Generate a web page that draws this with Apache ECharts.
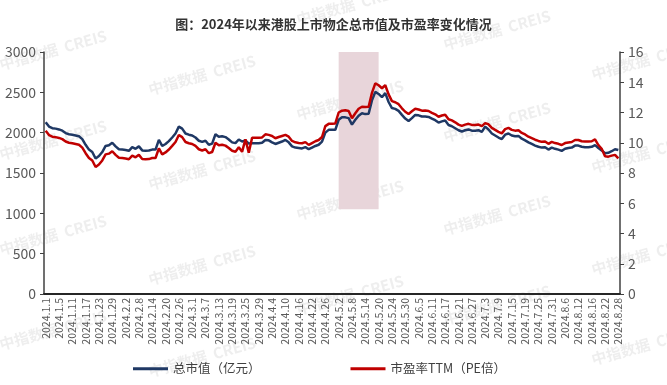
<!DOCTYPE html>
<html>
<head>
<meta charset="utf-8">
<script src="https://cdn.jsdelivr.net/npm/echarts@6/dist/echarts.min.js"></script>
<style>
html,body{margin:0;padding:0;background:#fff;}
#c{width:667px;height:385px;}
</style>
</head>
<body>
<div id="c"></div>
<script>
// ---- data ----
const titleText = '图：2024年以来港股上市物企总市值及市盈率变化情况';
const seriesNames = ['总市值（亿元）', '市盈率TTM（PE倍）'];
const monthDays = {
  1: [1,2,3,4,5,8,9,10,11,12,15,16,17,18,19,22,23,24,25,26,29,30,31],
  2: [1,2,5,6,7,8,9,12,13,14,15,16,19,20,21,22,23,26,27,28,29],
  3: [1,4,5,6,7,8,11,12,13,14,15,18,19,20,21,22,25,26,27,28,29],
  4: [1,2,3,4,5,8,9,10,11,12,15,16,17,18,19,22,23,24,25,26,29,30],
  5: [1,2,3,6,7,8,9,10,13,14,15,16,17,20,21,22,23,24,27,28,29,30,31],
  6: [3,4,5,6,7,10,11,12,13,14,17,18,19,20,21,24,25,26,27,28],
  7: [1,2,3,4,5,8,9,10,11,12,15,16,17,18,19,22,23,24,25,26,29,30,31],
  8: [1,2,5,6,7,8,9,12,13,14,15,16,19,20,21,22,23,26,27,28]
};
const categories = [];
Object.keys(monthDays).forEach(m => monthDays[m].forEach(d => categories.push('2024.' + m + '.' + d)));

const marketValue = [
  2130,2075,2055,2050,2040,2025,1995,1980,1975,1965,
  1955,1920,1850,1790,1760,1680,1710,1760,1835,1845,
  1875,1830,1795,1790,1785,1775,1820,1800,1830,1780,
  1775,1778,1790,1790,1910,1835,1860,1895,1940,1990,
  2075,2050,1990,1975,1965,1940,1900,1885,1900,1850,
  1865,1980,1950,1955,1945,1915,1880,1870,1915,1890,
  1905,1865,1870,1870,1870,1875,1910,1905,1880,1860,
  1875,1890,1910,1880,1830,1815,1810,1805,1820,1795,
  1815,1835,1850,1890,2000,2035,2035,2035,2160,2190,
  2190,2180,2100,2160,2210,2240,2230,2235,2400,2505,
  2480,2440,2490,2380,2305,2295,2270,2220,2175,2145,
  2180,2220,2215,2200,2200,2195,2175,2155,2125,2140,
  2150,2095,2080,2055,2030,2015,2030,2040,2025,2025,
  2030,2010,2075,2040,1990,1965,1940,1920,1975,1990,
  1965,1955,1960,1925,1905,1880,1860,1840,1825,1815,
  1820,1790,1815,1800,1790,1775,1800,1810,1815,1840,
  1840,1825,1820,1820,1825,1845,1810,1780,1745,1750,
  1770,1795,1785
];
const peTTM = [
  10.80,10.51,10.40,10.37,10.32,10.24,10.08,10.00,9.97,9.92,
  9.87,9.68,9.31,8.99,8.83,8.40,8.56,8.83,9.23,9.28,
  9.44,9.20,9.01,8.99,8.96,8.91,9.15,9.04,9.20,8.93,
  8.91,8.92,8.99,8.99,9.63,9.23,9.36,9.55,9.79,10.05,
  10.51,10.37,10.05,9.97,9.92,9.79,9.57,9.49,9.57,9.31,
  9.39,10.00,9.84,9.87,9.81,9.65,9.47,9.41,9.70,9.40,
  10.23,9.34,10.33,10.33,10.33,10.35,10.56,10.52,10.45,10.30,
  10.38,10.45,10.52,10.40,10.12,10.03,9.99,9.97,10.04,9.86,
  9.98,10.10,10.18,10.38,11.10,11.25,11.26,11.28,12.00,12.12,
  12.15,12.10,11.62,11.95,12.25,12.38,12.36,12.38,13.30,13.93,
  13.80,13.60,13.80,13.20,12.75,12.68,12.55,12.28,12.05,11.90,
  12.08,12.25,12.20,12.12,12.13,12.10,11.98,11.88,11.72,11.80,
  11.85,11.55,11.48,11.35,11.20,11.12,11.20,11.25,11.18,11.17,
  11.20,11.10,11.30,11.22,10.98,10.85,10.72,10.62,10.90,10.98,
  10.85,10.80,10.82,10.65,10.55,10.40,10.30,10.20,10.12,10.06,
  10.08,9.93,10.06,9.98,9.93,9.85,9.98,10.02,10.05,10.18,
  10.18,10.10,10.08,10.08,10.10,10.22,9.85,9.60,9.10,9.08,
  9.15,9.20,8.97
];
const highlightRange = ['2024.5.2', '2024.5.20'];
const highlightValueRange = [1050, 3000];
const watermarkText = '中指数据  CREIS';

// ---- layout / style ----
const FONT = '"Noto Sans CJK SC", "Noto Sans", sans-serif';
const wmCols = [
  {x: 53,  ys: [50, 140, 235, 330]},
  {x: 202, ys: [75, 170, 265, 357]},
  {x: 350, ys: [5, 100, 200, 295]},
  {x: 497, ys: [30, 122, 215, 305]},
  {x: 645, ys: [60, 153, 255, 345]}
];
const graphics = [];
wmCols.forEach(c => c.ys.forEach(y => {
  graphics.push({
    type: 'text', x: c.x, y: y, rotation: 0.27, z: -10, silent: true,
    style: {
      text: watermarkText, fill: 'rgba(170,170,170,0.2)',
      font: 'bold 15px ' + FONT, textAlign: 'center', textVerticalAlign: 'middle'
    }
  });
}));

const chart = echarts.init(document.getElementById('c'), null, {renderer: 'canvas'});
chart.setOption({
  animation: false,
  backgroundColor: '#ffffff',
  textStyle: {fontFamily: FONT},
  title: {
    text: titleText, left: 'center', top: 13,
    textStyle: {fontSize: 13, fontWeight: 'bold', color: '#333333', fontFamily: FONT}
  },
  graphic: graphics,
  legend: {
    left: 128, bottom: 5, itemGap: 90, itemWidth: 35, itemHeight: 3, icon: 'rect',
    textStyle: {fontSize: 12.5, color: '#404040', fontFamily: FONT},
    data: seriesNames
  },
  grid: {left: 44, right: 47, top: 52, bottom: 91},
  xAxis: {
    type: 'category', data: categories, boundaryGap: true,
    axisLine: {show: true, lineStyle: {color: '#262626', width: 2}},
    axisTick: {show: false},
    axisLabel: {interval: 3, rotate: 90, fontSize: 10.5, color: '#595959', margin: 4, fontFamily: FONT}
  },
  yAxis: [
    {
      type: 'value', min: 0, max: 3000, interval: 500, position: 'left',
      axisLine: {show: true, lineStyle: {color: '#404040', width: 1.5}},
      axisTick: {show: true, length: 4, lineStyle: {color: '#404040'}},
      splitLine: {show: false},
      axisLabel: {fontSize: 14, color: '#595959', margin: 8, fontFamily: FONT,
                  formatter: v => String(v)}
    },
    {
      type: 'value', min: 0, max: 16, interval: 2, position: 'right',
      axisLine: {show: true, lineStyle: {color: '#404040', width: 1.5}},
      axisTick: {show: true, length: 4, lineStyle: {color: '#404040'}},
      splitLine: {show: false},
      axisLabel: {fontSize: 14, color: '#595959', margin: 8, fontFamily: FONT,
                  formatter: v => String(v)}
    }
  ],
  series: [
    {
      name: seriesNames[0], type: 'line', yAxisIndex: 0, data: marketValue,
      symbol: 'none', color: '#1F3864',
      lineStyle: {width: 2.5, color: '#1F3864'},
      markArea: {
        silent: true, itemStyle: {color: '#E8D5DA'},
        data: [[{xAxis: highlightRange[0], yAxis: highlightValueRange[0]},
                {xAxis: highlightRange[1], yAxis: highlightValueRange[1]}]]
      },
      z: 3
    },
    {
      name: seriesNames[1], type: 'line', yAxisIndex: 1, data: peTTM,
      symbol: 'none', color: '#C00000',
      lineStyle: {width: 2.5, color: '#C00000'},
      z: 4
    }
  ]
});
</script>
</body>
</html>
